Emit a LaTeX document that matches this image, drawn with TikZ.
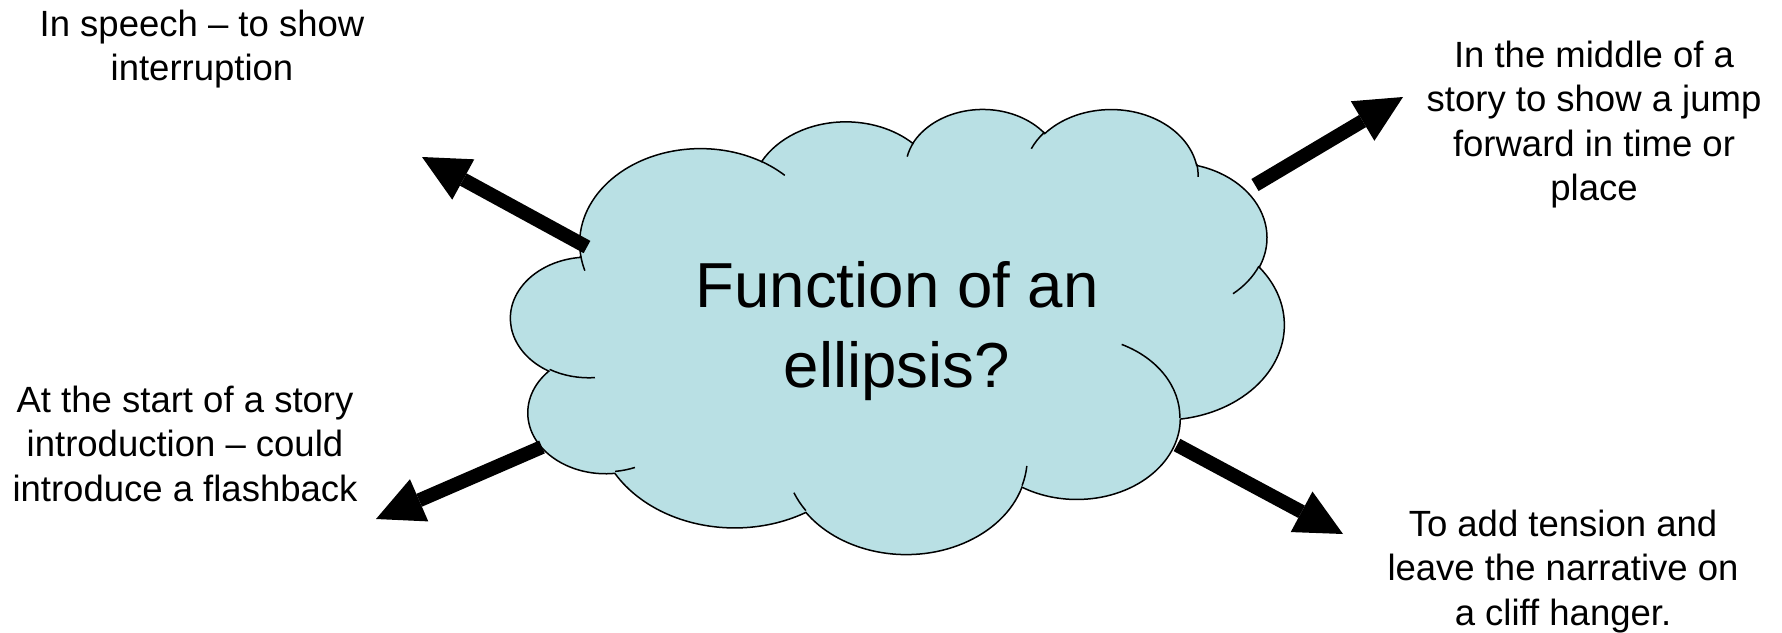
\documentclass[tikz,border=0pt]{standalone}
\usepackage{fontspec}
\setmainfont{Liberation Sans}
\usetikzlibrary{arrows.meta}

\definecolor{cloudblue}{RGB}{185,224,228}

\tikzset{
  note/.style={align=center, inner sep=0pt, anchor=base,
    font=\fontsize{18.25}{22.25}\selectfont},
  pointer/.style={line width=7pt, -{Triangle[length=23.5pt,width=23pt,line width=0pt]}},
  % one lobe of the cloud: x radius, y radius, start angle, sweep
  cloud arc/.style n args={4}{x radius=#1, y radius=#2,
    start angle={atan2(#1*sin(#3),#2*cos(#3))},
    delta angle={mod(atan2(#1*sin(#3+#4),#2*cos(#3+#4))-atan2(#1*sin(#3),#2*cos(#3))+720,360)}}
}

\begin{document}
\begin{tikzpicture}[x=0.5pt, y=-0.5pt]
  \useasboundingbox (0,0) rectangle (1782,632);

  % Cloud
  \begin{scope}[xshift=255.5pt, yshift=-54pt, x=0.8947pt, y=-0.5150pt, line width=0.75pt]
    \filldraw[fill=cloudblue] (39.00,143.70)
      arc[cloud arc={67.53}{91.90}{-190.4875}{123.7805}]
      arc[cloud arc={53.33}{72.67}{-144.1024}{89.9452}]
      arc[cloud arc={43.65}{59.45}{-145.8079}{99.7230}]
      arc[cloud arc={48.57}{65.95}{-130.9861}{117.2417}]
      arc[cloud arc={53.33}{72.73}{-78.7089}{109.0269}]
      arc[cloud arc={67.75}{92.20}{-46.2673}{130.2690}]
      arc[cloud arc={57.85}{78.67}{0.6250}{114.0333}]
      arc[cloud arc={67.52}{92.15}{22.4516}{115.1726}]
      arc[cloud arc={77.20}{105.43}{66.2426}{75.7110}]
      arc[cloud arc={43.60}{59.18}{-274.9421}{146.7356}]
      arc[cloud arc={43.45}{59.45}{-246.8285}{152.5189}]
      -- cycle;
    % inner folds
    \draw (46.93,261.77) arc[cloud arc={43.45}{59.45}{86.7420}{26.4295}]
          (69.28,348.99) arc[cloud arc={43.60}{59.18}{73.6105}{11.4475}]
          (164.78,390.90) arc[cloud arc={67.52}{92.15}{137.6242}{14.0811}]
          (288.27,347.51) arc[cloud arc={67.52}{92.15}{6.4533}{15.9984}]
          (341.29,229.54) arc[cloud arc={57.85}{78.67}{-70.2924}{70.9174}]
          (417.98,153.54) arc[cloud arc={53.33}{72.73}{30.3180}{27.7515}]
          (383.24,54.26) arc[cloud arc={48.57}{65.95}{-13.7443}{14.8589}]
          (290.78,39.52) arc[cloud arc={48.57}{65.95}{-149.1815}{18.1954}]
          (221.41,47.20) arc[cloud arc={43.65}{59.45}{-163.4943}{17.6864}]
          (140.00,51.92) arc[cloud arc={67.53}{91.90}{-66.7070}{12.3194}]
          (41.27,157.89) arc[cloud arc={67.53}{91.90}{157.6544}{11.8582}];
  \end{scope}

  \node[align=center, inner sep=0pt, anchor=base, font=\fontsize{31.8}{40}\selectfont]
    (idea) at (897,387) {Function of an\\ellipsis?};

  % Labels (placed by the baseline of their last line)
  \node[note] (speech) at (202,80.5) {In speech – to show\\interruption};
  \node[note] (opening) at (185,501) {At the start of a story\\introduction – could\\introduce a flashback};
  \node[note] (middle) at (1594,200.5) {In the middle of a\\story to show a jump\\forward in time or\\place};
  \node[note] (tension) at (1563,625) {To add tension and\\leave the narrative on\\a cliff hanger.};

  % Arrows
  \coordinate (speech-tail) at (587,247);
  \coordinate (speech-tip) at (422,157);
  \coordinate (middle-tail) at (1255,185);
  \coordinate (middle-tip) at (1403,97);
  \coordinate (opening-tail) at (542,447);
  \coordinate (opening-tip) at (376,519);
  \coordinate (tension-tail) at (1177,445);
  \coordinate (tension-tip) at (1343,534);

  \draw[pointer] (speech-tail) -- (speech-tip);
  \draw[pointer] (middle-tail) -- (middle-tip);
  \draw[pointer] (opening-tail) -- (opening-tip);
  \draw[pointer] (tension-tail) -- (tension-tip);
\end{tikzpicture}
\end{document}
